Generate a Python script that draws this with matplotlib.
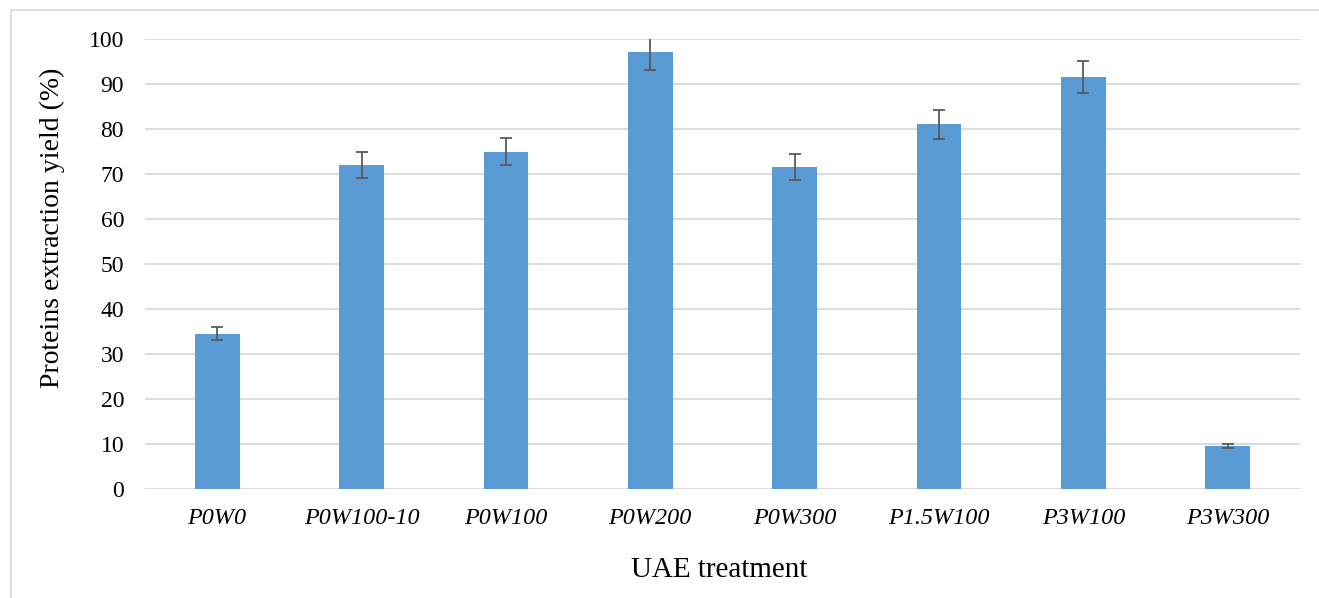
import matplotlib.pyplot as plt
from matplotlib.lines import Line2D

# Data
treatments = ['P0W0', 'P0W100-10', 'P0W100', 'P0W200', 'P0W300', 'P1.5W100', 'P3W100', 'P3W300']
yield_pct = [34.5, 71.9, 74.9, 97.0, 71.6, 81.0, 91.5, 9.5]
yield_err = [1.5, 2.9, 3.0, 3.9, 2.9, 3.3, 3.6, 0.4]
y_ticks = [0, 10, 20, 30, 40, 50, 60, 70, 80, 90, 100]

plt.rcParams['font.family'] = ['Liberation Serif', 'DejaVu Serif']

fig = plt.figure(figsize=(13.19, 5.98), dpi=100)
ax = fig.add_axes([0.1099, 0.1823, 0.8757, 0.7525])

# light chart-area border (only top and left edges are in the picture)
bx, by = 11 / 1319, 1 - 10 / 598
fig.lines.append(Line2D([bx, bx, 1.0], [0.0, by, by], transform=fig.transFigure,
                        color='#D9D9D9', linewidth=1.2))

x = range(len(treatments))
ax.bar(x, yield_pct, width=0.31, color='#5B9BD5', zorder=2)
ax.errorbar(x, yield_pct, yerr=yield_err, fmt='none', ecolor='#595959',
            elinewidth=1.3, capsize=4.3, capthick=1.3, zorder=3)

ax.set_xlim(-0.5, len(treatments) - 0.5)
ax.set_ylim(0, 100)
ax.set_yticks(y_ticks)
ax.set_xticks(list(x))
ax.set_xticklabels(treatments, fontstyle='italic')
ax.tick_params(axis='both', length=0, colors='black')
ax.tick_params(axis='x', pad=14, labelsize=17.4)
ax.tick_params(axis='y', pad=15, labelsize=17)

ax.grid(axis='y', color='#D9D9D9', linewidth=1.3, zorder=0)
ax.set_axisbelow(True)
for s in ax.spines.values():
    s.set_visible(False)

ax.set_xlabel('UAE treatment', fontsize=21)
ax.set_ylabel('Proteins extraction yield (%)', fontsize=20)
ax.xaxis.set_label_coords(0.497, -0.152)
ax.yaxis.set_label_coords(-0.069, 0.58)

fig.savefig('out.png', dpi=100)
